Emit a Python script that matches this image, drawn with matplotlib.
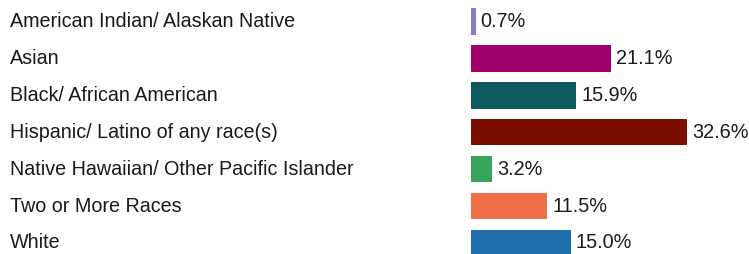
import matplotlib.pyplot as plt
from matplotlib.transforms import blended_transform_factory

plt.rcParams["font.family"] = ["Liberation Sans", "DejaVu Sans"]

categories = [
    "American Indian/ Alaskan Native",
    "Asian",
    "Black/ African American",
    "Hispanic/ Latino of any race(s)",
    "Native Hawaiian/ Other Pacific Islander",
    "Two or More Races",
    "White",
]
values = [0.7, 21.1, 15.9, 32.6, 3.2, 11.5, 15.0]
value_labels = ["0.7%", "21.1%", "15.9%", "32.6%", "3.2%", "11.5%", "15.0%"]
colors = ["#8e7cc3", "#a0006a", "#0f5a60", "#7a0f00", "#38a35a", "#ef6f48", "#1f6fad"]

W, H = 749, 254
fig = plt.figure(figsize=(W / 100, H / 100), dpi=100)
ax = fig.add_axes([471 / W, 0, (W - 471) / W, 1])

pos = list(range(len(categories)))
ax.barh(pos, values, height=0.72, color=colors)
ax.set_xlim(0, (W - 471) / 6.635)
ax.set_ylim(254 / 36.9 - 21.5 / 36.9, -21.5 / 36.9)
ax.axis("off")

for i, (v, lab) in enumerate(zip(values, value_labels)):
    ax.annotate(lab, (v, i), xytext=(3.5, 0), textcoords="offset points",
                va="center", ha="left", fontsize=14.3, color="#1a1a1a")

trans = blended_transform_factory(fig.transFigure, ax.transData)
for i, c in enumerate(categories):
    ax.text(10 / W, i, c, transform=trans, va="center", ha="left",
            fontsize=14.2, color="#1a1a1a")

fig.savefig("out.png", dpi=100)
